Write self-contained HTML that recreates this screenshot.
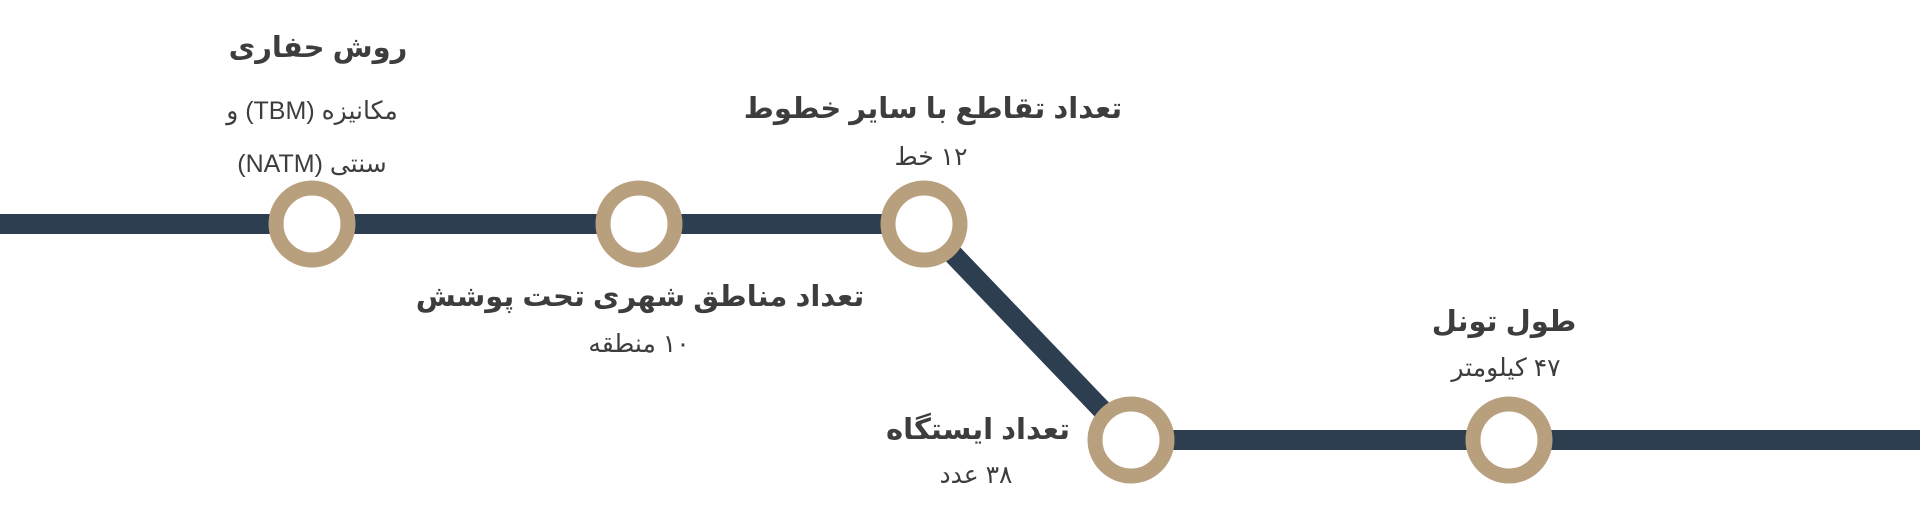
<!DOCTYPE html>
<html><head><meta charset="utf-8"><style>
html,body{margin:0;padding:0;background:#fff;width:1920px;height:532px;overflow:hidden}
text{font-family:"Liberation Sans","Noto Sans CJK SC","DejaVu Sans",sans-serif;fill:#3d3d3d;text-anchor:middle}
.t{font-size:29px;font-weight:bold}
.s{font-size:25px}
</style></head><body>
<svg width="1920" height="532" viewBox="0 0 1920 532">
<g stroke="#2d3e50" stroke-width="20" fill="none">
<line x1="0" y1="224" x2="924" y2="224"/>
<line x1="924" y1="224" x2="1131" y2="440"/>
<line x1="1131" y1="440" x2="1920" y2="440"/>
</g>
<g stroke="#b8a07e" stroke-width="15" fill="#fff">
<circle cx="312" cy="224" r="36"/>
<circle cx="639" cy="224" r="36"/>
<circle cx="924" cy="224" r="36"/>
<circle cx="1131" cy="440" r="36"/>
<circle cx="1509" cy="440" r="36"/>
</g>
<text class="t" x="318" y="57" direction="rtl">روش حفاری</text>
<text class="s" x="312" y="119" direction="rtl">مکانیزه (TBM) و</text>
<text class="s" x="312" y="172" direction="rtl">سنتی (NATM)</text>
<text class="t" x="933" y="118" direction="rtl">تعداد تقاطع با سایر خطوط</text>
<text class="s" x="931" y="165" direction="rtl">۱۲ خط</text>
<text class="t" x="640" y="306" direction="rtl">تعداد مناطق شهری تحت پوشش</text>
<text class="s" x="639" y="352" direction="rtl">۱۰ منطقه</text>
<text class="t" x="1504" y="331" direction="rtl">طول تونل</text>
<text class="s" x="1506" y="376" direction="rtl">۴۷ کیلومتر</text>
<text class="t" x="978" y="439" direction="rtl">تعداد ایستگاه</text>
<text class="s" x="976" y="483" direction="rtl">۳۸ عدد</text>
</svg>
</body></html>
